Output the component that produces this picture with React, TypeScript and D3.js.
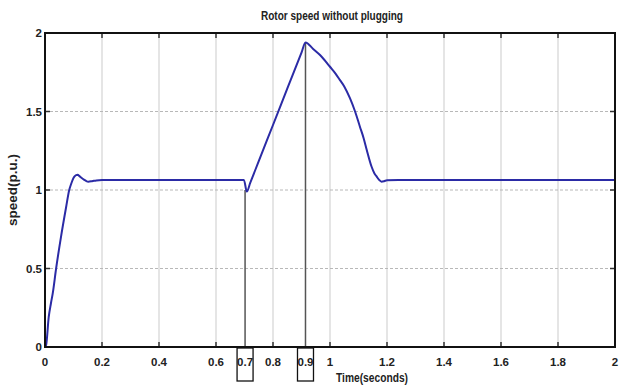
import React from "react";
import * as d3 from "d3";

const timeS = [0, 0.004, 0.013, 0.021, 0.027, 0.039, 0.056, 0.074, 0.085, 0.092, 0.097, 0.103, 0.109, 0.115, 0.12, 0.13, 0.138, 0.145, 0.152, 0.165, 0.18, 0.2, 0.698, 0.708, 0.72, 0.75, 0.8, 0.85, 0.9, 0.914, 0.94, 0.965, 1.0, 1.02, 1.035, 1.05, 1.07, 1.088, 1.105, 1.118, 1.129, 1.146, 1.156, 1.164, 1.172, 1.181, 1.19, 1.2, 1.24, 2.0];
const speed = [0, 0.013, 0.19, 0.28, 0.34, 0.5, 0.7, 0.89, 1.0, 1.04, 1.065, 1.085, 1.095, 1.097, 1.09, 1.075, 1.065, 1.057, 1.053, 1.056, 1.061, 1.064, 1.064, 0.99, 1.045, 1.184, 1.414, 1.645, 1.875, 1.94, 1.9, 1.86, 1.785, 1.74, 1.7, 1.66, 1.585, 1.5, 1.403, 1.33, 1.255, 1.148, 1.105, 1.085, 1.065, 1.053, 1.056, 1.062, 1.064, 1.064];
const xTicks = [0, 0.2, 0.4, 0.6, 0.8, 1, 1.2, 1.4, 1.6, 1.8, 2];
const yTicks = [0, 0.5, 1, 1.5, 2];
const markerTimes = [0.702, 0.914];
const markerLabels = ["0.7", "0.9"];
const markerSpeeds = [1.0, 1.94];

const W = 624, H = 389;
const L = 45, R = 615, T = 33, B = 347;
const FONT = "'Liberation Sans Narrow', 'Liberation Sans', Arial, sans-serif";

export default function App() {
  const x = d3.scaleLinear().domain([0, 2]).range([L, R]);
  const y = d3.scaleLinear().domain([0, 2]).range([B, T]);
  const line = d3.line<number>()
    .x((_, i) => x(timeS[i]))
    .y((d) => y(d))
    .curve(d3.curveMonotoneX);
  const fmt = (v: number) => String(v);
  return (
    <svg width={W} height={H} style={{ position: "absolute", left: 0, top: 0, background: "#fff" }}
      fontFamily={FONT}>
      <rect x={0} y={0} width={W} height={H} fill="#fff" />
      {xTicks.slice(1, -1).map((t) => (
        <line key={"gx" + t} x1={x(t)} x2={x(t)} y1={T} y2={B} stroke="#d4d4d4" strokeWidth={1.2} />
      ))}
      {yTicks.slice(1, -1).map((t) => (
        <line key={"gy" + t} x1={L} x2={R} y1={y(t)} y2={y(t)} stroke="#b8b8b8" strokeWidth={1} strokeDasharray="3,2" />
      ))}
      {markerTimes.map((t, i) => (
        <line key={"m" + i} x1={x(t)} x2={x(t)} y1={y(markerSpeeds[i])} y2={B} stroke="#555" strokeWidth={1.5} />
      ))}
      <path d={line(speed) || ""} fill="none" stroke="#2b2ba6" strokeWidth={2} strokeLinejoin="round" />
      {xTicks.map((t) => (
        <g key={"tx" + t}>
          <line x1={x(t)} x2={x(t)} y1={B} y2={B - 5} stroke="#333" strokeWidth={1.5} />
          <line x1={x(t)} x2={x(t)} y1={T} y2={T + 5} stroke="#333" strokeWidth={1.5} />
          <text x={x(t)} y={366} textAnchor="middle" fontSize={11.5} fontWeight="bold" fill="#222">{fmt(t)}</text>
        </g>
      ))}
      {yTicks.map((t) => (
        <g key={"ty" + t}>
          <line x1={L} x2={L + 5} y1={y(t)} y2={y(t)} stroke="#333" strokeWidth={1.5} />
          <line x1={R} x2={R - 5} y1={y(t)} y2={y(t)} stroke="#333" strokeWidth={1.5} />
          <text x={L - 3} y={y(t) + 4} textAnchor="end" fontSize={11.5} fontWeight="bold" fill="#222">{fmt(t)}</text>
        </g>
      ))}
      <rect x={L} y={T} width={R - L} height={B - T} fill="none" stroke="#111" strokeWidth={2} />
      {markerTimes.map((t, i) => (
        <g key={"mb" + i}>
          <rect x={x(t) - 8} y={348} width={16} height={33} fill="none" stroke="#111" strokeWidth={1.3} />
          <text x={x(t)} y={366} textAnchor="middle" fontSize={11.5} fontWeight="bold" fill="#222">{markerLabels[i]}</text>
        </g>
      ))}
      <text x={372} y={382} textAnchor="middle" fontSize={12} fontWeight="bold" fill="#222" textLength={72} lengthAdjust="spacingAndGlyphs">Time(seconds)</text>
      <text transform={`translate(17,${(T + B) / 2}) rotate(-90)`} textAnchor="middle" fontSize={12} fontWeight="bold" fill="#222" textLength={72} lengthAdjust="spacingAndGlyphs">speed(p.u.)</text>
      <text x={332} y={20} textAnchor="middle" fontSize={12} fontWeight="bold" fill="#222" textLength={142} lengthAdjust="spacingAndGlyphs">Rotor speed without plugging</text>
    </svg>
  );
}
